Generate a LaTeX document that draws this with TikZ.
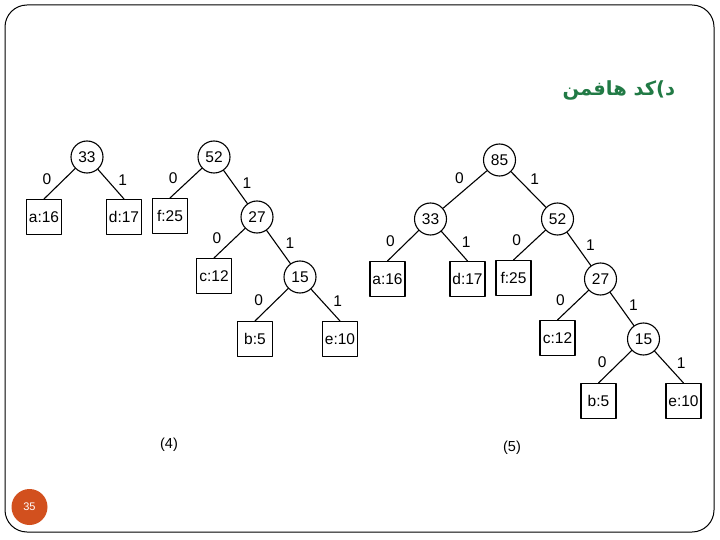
\documentclass[tikz,border=0pt]{standalone}
\usepackage{fontspec}
\setmainfont{Liberation Sans}
\newfontfamily\arabicfont[Script=Arabic]{DejaVu Sans}
\TeXXeTstate=1

\newcommand{\forestahuffman}[1]{%
  % Sottoalbero 33: due foglie.
  \node[nodo]   (#1-33) at (87,157)  {33};
  \node[foglia] (#1-a)  at (44,217)  {a:16};
  \node[foglia] (#1-d)  at (124,217) {d:17};
  % Sottoalbero 52: scende a destra fino a 15.
  \node[nodo]   (#1-52) at (214,157) {52};
  \node[foglia] (#1-f)  at (170,216) {f:25};
  \node[nodo]   (#1-27) at (257,217) {27};
  \node[foglia] (#1-c)  at (214,276) {c:12};
  \node[nodo]   (#1-15) at (300,277) {15};
  \node[foglia] (#1-b)  at (255,339) {b:5};
  \node[foglia] (#1-e)  at (340,339) {e:10};
  \draw (#1-33) -- node[zero] {0} (#1-a.north);
  \draw (#1-33) -- node[uno]  {1} (#1-d.north);
  \draw (#1-52) -- node[zero] {0} (#1-f.north);
  \draw (#1-52) -- node[uno]  {1} (#1-27);
  \draw (#1-27) -- node[zero] {0} (#1-c.north);
  \draw (#1-27) -- node[uno]  {1} (#1-15);
  \draw (#1-15) -- node[zero] {0} (#1-b.north);
  \draw (#1-15) -- node[uno]  {1} (#1-e.north);
}

\begin{document}
\begin{tikzpicture}[x=1pt,y=-1pt,line join=round,line cap=round,
    line width=1.1pt,font=\fontsize{15.5}{17}\selectfont,
    nodo/.style={circle,draw,minimum size=32pt,inner sep=0pt},
    foglia/.style={rectangle,draw,minimum width=35pt,minimum height=35pt,inner sep=0pt},
    zero/.style={pos=.65,anchor=south east,inner sep=3pt},
    uno/.style={pos=.65,anchor=south west,inner sep=3pt}]
  \definecolor{huffVerde}{HTML}{217A45}
  \definecolor{huffArancio}{HTML}{D2501E}
  \useasboundingbox (0,0) rectangle (720,540);
  \fill[white] (0,0) rectangle (720,540);
  \draw[line width=1pt,rounded corners=22pt] (5,5) rectangle (714,532);

  \node[anchor=east,text=huffVerde,
        font=\arabicfont\bfseries\fontsize{19.5}{22}\selectfont] (titolo)
    at (679,90) {\beginR د)کد هافمن\endR};

  % Passo (4): due alberi separati.
  \begin{scope}
    \forestahuffman{s}
  \end{scope}
  \node (cap4) at (169,445) {\fontsize{14.5}{16}\selectfont (4)};

  % Passo (5): la stessa foresta unita sotto la radice 85.
  \begin{scope}[shift={(343.5,62)}]
    \forestahuffman{d}
  \end{scope}
  \node[nodo] (d-85) at (499.5,160) {85};
  \draw (d-85) -- node[zero,pos=.45] {0} (d-33);
  \draw (d-85) -- node[uno,pos=.45]  {1} (d-52);
  \node (cap5) at (512,448) {\fontsize{14.5}{16}\selectfont (5)};

  % Numero di pagina.
  \node[circle,fill=huffArancio,minimum size=36pt,inner sep=0pt,text=white,
        font=\fontsize{11}{13}\selectfont] (pagina) at (29.5,507) {35};
\end{tikzpicture}
\end{document}
